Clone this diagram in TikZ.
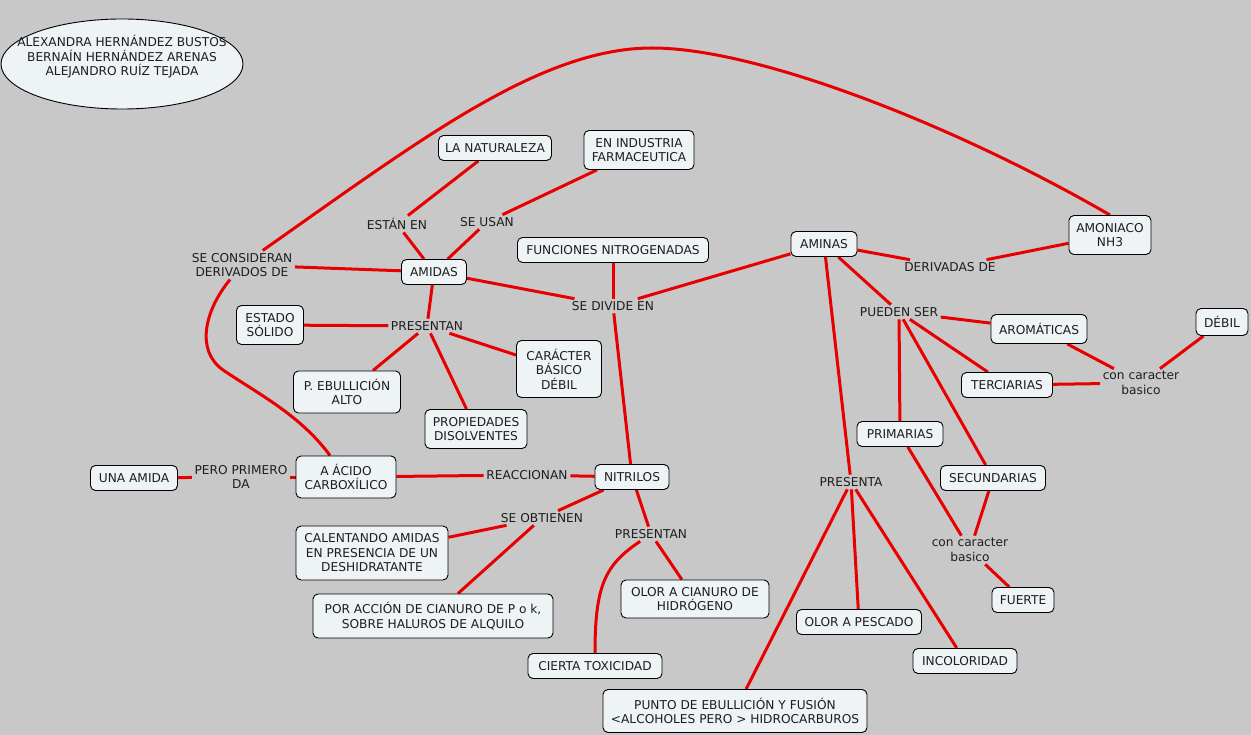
\documentclass[tikz,border=0pt]{standalone}
\usepackage{fontspec}
\setmainfont{DejaVu Sans}
\usetikzlibrary{shapes.geometric}
\definecolor{bgray}{RGB}{200,200,200}
\definecolor{boxfill}{RGB}{238,243,246}
\definecolor{linkred}{RGB}{232,0,0}
\definecolor{txtc}{RGB}{30,30,30}
\newcommand{\fs}{\fontsize{12.2}{14.5}\selectfont}
\pgfdeclarelayer{bg}
\pgfsetlayers{bg,main}
\tikzset{
  box/.style={draw=black, line width=0.9pt, fill=boxfill, rounded corners=5pt, align=center, inner sep=0pt, font=\fs, text=txtc},
  lbl/.style={align=center, inner sep=2.5pt, font=\fs, text=txtc},
  link/.style={draw=linkred, line width=3pt},
}
\begin{document}
\begin{tikzpicture}[x=1pt,y=-1pt]
\useasboundingbox (0,0) rectangle (1251,735);
\begin{pgfonlayer}{bg}
\fill[bgray] (0,0) rectangle (1251,735);
\end{pgfonlayer}

% authors
\node[ellipse, draw=black, line width=0.9pt, fill=boxfill, minimum width=242pt, minimum height=90pt, inner sep=0pt] (authors) at (122,64) {};
\node[lbl] (authorsTxt) at (122,57) {ALEXANDRA HERNÁNDEZ BUSTOS\\BERNAÍN HERNÁNDEZ ARENAS\\ALEJANDRO RUÍZ TEJADA};

% boxes
\node[box, minimum width=113pt, minimum height=25pt] (nat) at (495,148) {LA NATURALEZA};
\node[box, minimum width=110pt, minimum height=39pt] (farm) at (639,150) {EN INDUSTRIA\\FARMACEUTICA};
\node[box, minimum width=191pt, minimum height=25pt] (func) at (613,250) {FUNCIONES NITROGENADAS};
\node[box, minimum width=66pt, minimum height=25pt] (aminas) at (824,244) {AMINAS};
\node[box, minimum width=82pt, minimum height=39pt] (amon) at (1110,235) {AMONIACO\\NH3};
\node[box, minimum width=65pt, minimum height=25pt] (amidas) at (434,272) {AMIDAS};
\node[box, minimum width=67pt, minimum height=39pt] (solido) at (270,325) {ESTADO\\SÓLIDO};
\node[box, minimum width=85pt, minimum height=57pt] (caract) at (559,369) {CARÁCTER\\BÁSICO\\DÉBIL};
\node[box, minimum width=107pt, minimum height=42pt] (ebull) at (347,392) {P. EBULLICIÓN\\ALTO};
\node[box, minimum width=102pt, minimum height=39pt] (disolv) at (476,429) {PROPIEDADES\\DISOLVENTES};
\node[box, minimum width=87pt, minimum height=25pt] (unaamida) at (134,478) {UNA AMIDA};
\node[box, minimum width=100pt, minimum height=42pt] (acido) at (346,477) {A ÁCIDO\\CARBOXÍLICO};
\node[box, minimum width=74pt, minimum height=25pt] (nitrilos) at (632,477) {NITRILOS};
\node[box, minimum width=152pt, minimum height=54pt] (calent) at (372,553) {CALENTANDO AMIDAS\\EN PRESENCIA DE UN\\DESHIDRATANTE};
\node[box, minimum width=240pt, minimum height=44pt] (accion) at (433,616) {POR ACCIÓN DE CIANURO DE P o k,\\SOBRE HALUROS DE ALQUILO};
\node[box, minimum width=148pt, minimum height=38pt] (cianuro) at (695,599) {OLOR A CIANURO DE\\HIDRÓGENO};
\node[box, minimum width=134pt, minimum height=25pt] (tox) at (595,666) {CIERTA TOXICIDAD};
\node[box, minimum width=264pt, minimum height=43pt] (punto) at (735,711) {PUNTO DE EBULLICIÓN Y FUSIÓN\\<ALCOHOLES PERO > HIDROCARBUROS};
\node[box, minimum width=96pt, minimum height=29pt] (arom) at (1039,329) {AROMÁTICAS};
\node[box, minimum width=52pt, minimum height=27pt] (debil) at (1222,322) {DÉBIL};
\node[box, minimum width=91pt, minimum height=25pt] (terc) at (1007,385) {TERCIARIAS};
\node[box, minimum width=86pt, minimum height=25pt] (prim) at (900,434) {PRIMARIAS};
\node[box, minimum width=105pt, minimum height=25pt] (secund) at (993,478) {SECUNDARIAS};
\node[box, minimum width=62pt, minimum height=25pt] (fuerte) at (1023,600) {FUERTE};
\node[box, minimum width=125pt, minimum height=25pt] (pescado) at (859,622) {OLOR A PESCADO};
\node[box, minimum width=104pt, minimum height=25pt] (incol) at (965,661) {INCOLORIDAD};

% labels
\node[lbl] (estan) at (397,224) {ESTÁN EN};
\node[lbl] (usan) at (487,222) {SE USAN};
\node[lbl] (secons) at (242,265) {SE CONSIDERAN\\DERIVADOS DE};
\node[lbl] (divide) at (613,306) {SE DIVIDE EN};
\node[lbl] (pres1) at (427,326) {PRESENTAN};
\node[lbl] (pero) at (241,477) {PERO PRIMERO\\DA};
\node[lbl] (reacc) at (527,475) {REACCIONAN};
\node[lbl] (obt) at (542,518) {SE OBTIENEN};
\node[lbl] (pres2) at (651,534) {PRESENTAN};
\node[lbl] (deriv) at (950,267) {DERIVADAS DE};
\node[lbl] (pueden) at (899,312) {PUEDEN SER};
\node[lbl] (conr) at (1141,383) {con caracter\\basico};
\node[lbl] (presta) at (851,482) {PRESENTA};
\node[lbl] (conl) at (970,550) {con caracter\\basico};

\coordinate (arctop) at (652,48);

\begin{pgfonlayer}{bg}
\draw[link] (amon.north) .. controls (960,128) and (760,48) .. (arctop)
  .. controls (540,48) and (420,140) .. (secons);
\draw[link] (secons) .. controls (205,310) and (195,350) .. (223,370)
  .. controls (260,395) and (300,415) .. (acido);
\draw[link] (nat) -- (estan);
\draw[link] (estan) -- (amidas);
\draw[link] (farm) -- (usan);
\draw[link] (usan) -- (amidas);
\draw[link] (secons) -- (amidas);
\draw[link] (amidas) -- (divide);
\draw[link] (func) -- (divide);
\draw[link] (divide) -- (aminas);
\draw[link] (divide) -- (nitrilos);
\draw[link] (amidas) -- (pres1);
\draw[link] (pres1) -- (solido);
\draw[link] (pres1) -- (ebull);
\draw[link] (pres1) -- (disolv);
\draw[link] (pres1) -- (caract);
\draw[link] (unaamida) -- (pero);
\draw[link] (pero) -- (acido);
\draw[link] (acido) -- (reacc);
\draw[link] (reacc) -- (nitrilos);
\draw[link] (nitrilos) -- (obt);
\draw[link] (obt) -- (calent);
\draw[link] (obt) -- (accion);
\draw[link] (nitrilos) -- (pres2);
\draw[link] (pres2) -- (cianuro);
\draw[link] (pres2) .. controls (605,565) and (595,585) .. (tox);
\draw[link] (aminas) -- (deriv);
\draw[link] (deriv) -- (amon);
\draw[link] (aminas) -- (pueden);
\draw[link] (aminas) -- (presta);
\draw[link] (pueden) -- (arom);
\draw[link] (pueden) -- (terc);
\draw[link] (pueden) -- (prim);
\draw[link] (pueden) -- (secund);
\draw[link] (arom) -- (conr);
\draw[link] (terc) -- (conr);
\draw[link] (conr) -- (debil);
\draw[link] (prim) -- (conl);
\draw[link] (secund) -- (conl);
\draw[link] (conl) -- (fuerte);
\draw[link] (presta) -- (punto);
\draw[link] (presta) -- (pescado);
\draw[link] (presta) -- (incol);
\end{pgfonlayer}
\end{tikzpicture}
\end{document}
